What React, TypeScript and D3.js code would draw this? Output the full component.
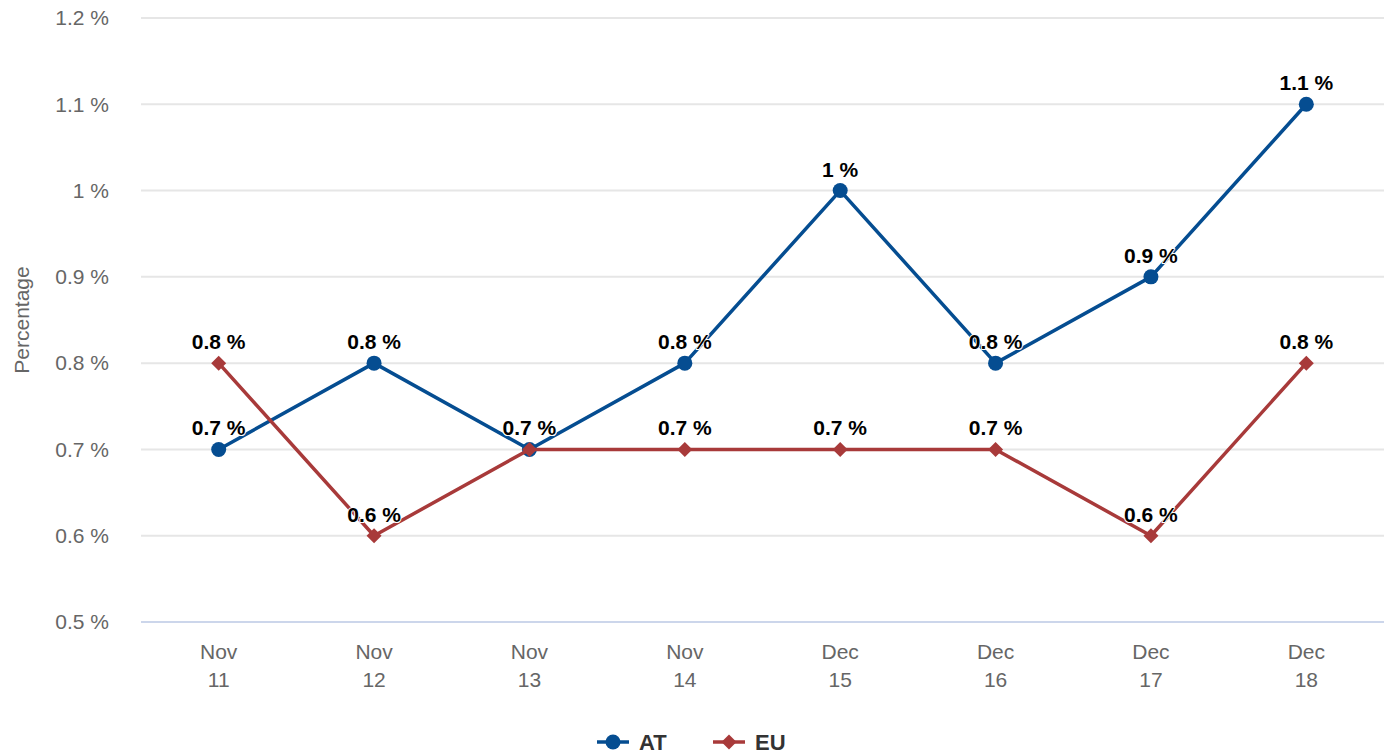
import React from "react";
import * as d3 from "d3";

const months = ["Nov", "Nov", "Nov", "Nov", "Dec", "Dec", "Dec", "Dec"];
const days = ["11", "12", "13", "14", "15", "16", "17", "18"];
const atValues = [0.7, 0.8, 0.7, 0.8, 1.0, 0.8, 0.9, 1.1];
const euValues = [0.8, 0.6, 0.7, 0.7, 0.7, 0.7, 0.6, 0.8];
const yTicks = [0.5, 0.6, 0.7, 0.8, 0.9, 1.0, 1.1, 1.2];
const seriesNames = ["AT", "EU"];
const colors = ["#054d91", "#a83a3a"];

const W = 1397;
const H = 756;
const left = 141;
const right = 1384;
const top = 18;
const bottom = 622;
const font = "'Liberation Sans', Arial, Helvetica, sans-serif";

const fmt = (v: number) => `${d3.format("~g")(+v.toFixed(2))} %`;

export default function App() {
  const idx = d3.range(months.length).map(String);
  const x = d3.scaleBand<string>().domain(idx).range([left, right]);
  const y = d3.scaleLinear().domain([0.5, 1.2]).range([bottom, top]);
  const cx = (i: number) => (x(String(i)) as number) + x.bandwidth() / 2;
  const line = d3
    .line<number>()
    .x((_, i) => cx(i))
    .y((d) => y(d));
  const series = [atValues, euValues];
  const diamond = (px: number, py: number, r: number) =>
    `M${px},${py - r}L${px + r},${py}L${px},${py + r}L${px - r},${py}Z`;

  return (
    <svg
      width={W}
      height={H}
      style={{ position: "absolute", left: 0, top: 0, display: "block" }}
      fontFamily={font}
    >
      <rect width={W} height={H} fill="#ffffff" />
      {yTicks.map((t) => (
        <g key={t}>
          {t !== 0.5 && (
            <line x1={left} x2={right} y1={y(t)} y2={y(t)} stroke="#e6e6e6" strokeWidth={2} />
          )}
          <text
            x={109}
            y={y(t)}
            dy="0.35em"
            textAnchor="end"
            fontSize={21}
            fill="#666666"
          >
            {fmt(t)}
          </text>
        </g>
      ))}
      <line x1={left} x2={right} y1={bottom} y2={bottom} stroke="#ccd6eb" strokeWidth={2} />
      {months.map((m, i) => (
        <text key={i} x={cx(i)} textAnchor="middle" fontSize={21} fill="#666666">
          <tspan x={cx(i)} y={659}>{m}</tspan>
          <tspan x={cx(i)} y={687}>{days[i]}</tspan>
        </text>
      ))}
      <text
        transform={`translate(29,${(top + bottom) / 2}) rotate(-90)`}
        textAnchor="middle"
        fontSize={21}
        fill="#666666"
      >
        Percentage
      </text>
      {series.map((vals, s) => (
        <g key={s}>
          <path d={line(vals) || ""} fill="none" stroke={colors[s]} strokeWidth={3.5} strokeLinejoin="round" />
          {vals.map((v, i) =>
            s === 0 ? (
              <circle key={i} cx={cx(i)} cy={y(v)} r={7.5} fill={colors[s]} />
            ) : (
              <path key={i} d={diamond(cx(i), y(v), 7.5)} fill={colors[s]} />
            )
          )}
        </g>
      ))}
      {series.map((vals, s) =>
        vals.map((v, i) => (
          <text
            key={`${s}-${i}`}
            x={cx(i)}
            y={y(v) - 14}
            textAnchor="middle"
            fontSize={21}
            fontWeight="bold"
            fill="#000000"
            stroke="#ffffff"
            strokeWidth={2}
            strokeLinejoin="round"
            style={{ paintOrder: "stroke" }}
          >
            {fmt(v)}
          </text>
        ))
      )}
      {seriesNames.map((n, s) => {
        const x0 = s === 0 ? 597 : 713;
        const ly = 742;
        return (
          <g key={n}>
            <line x1={x0} x2={x0 + 32} y1={ly} y2={ly} stroke={colors[s]} strokeWidth={3.5} />
            {s === 0 ? (
              <circle cx={x0 + 16} cy={ly} r={7.5} fill={colors[s]} />
            ) : (
              <path d={diamond(x0 + 16, ly, 7.5)} fill={colors[s]} />
            )}
            <text x={x0 + 42} y={ly} dy="0.35em" fontSize={22} fontWeight="bold" fill="#333333">
              {n}
            </text>
          </g>
        );
      })}
    </svg>
  );
}
